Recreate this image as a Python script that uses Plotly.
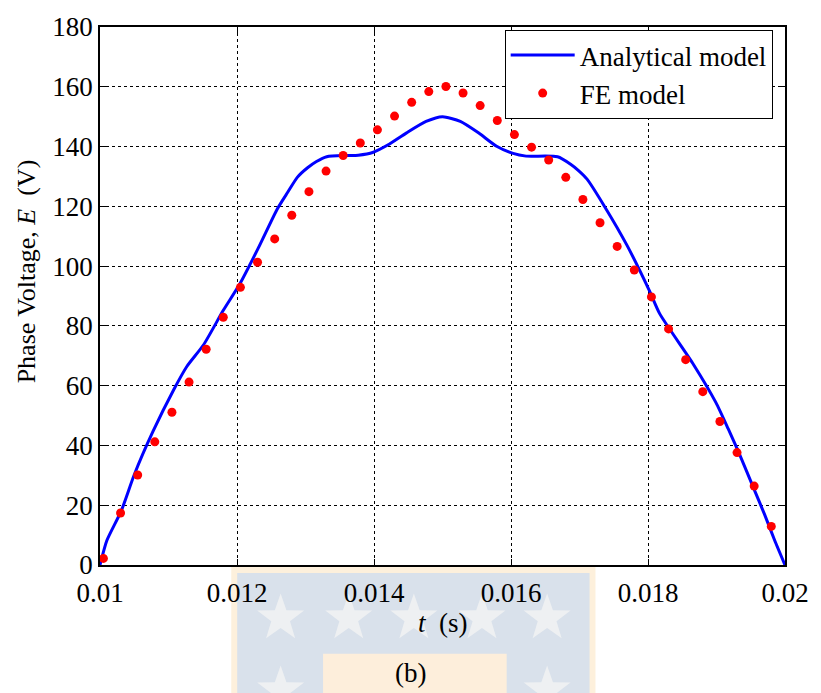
import math
import plotly.graph_objects as go

# Analytical model: phase back-EMF over one half period
t_analytical = [0.01000, 0.01010, 0.01031, 0.01050, 0.01077, 0.01108, 0.01127,
                0.01151, 0.01180, 0.01204, 0.01231, 0.01259, 0.01274, 0.01288,
                0.01303, 0.01316, 0.01331, 0.01360, 0.01377, 0.01399, 0.01420,
                0.01447, 0.01476, 0.01500, 0.01526, 0.01553, 0.01579, 0.01603,
                0.01622, 0.01668, 0.01687, 0.01699, 0.01711, 0.01737, 0.01769,
                0.01802, 0.01817, 0.01865, 0.01899, 0.01917, 0.01932, 0.01956,
                0.01970, 0.01985, 0.02000]
e_analytical = [0.0, 8.2, 18.1, 30.2, 44.5, 58.8, 66.5,
                73.6, 85.2, 94.0, 106.0, 119.2, 124.7, 129.7,
                132.9, 135.0, 136.6, 137.0, 137.1, 138.1, 140.5,
                144.5, 148.4, 150.0, 148.4, 144.5, 140.1, 137.7,
                136.8, 136.6, 134.1, 131.9, 129.1, 119.8, 107.1,
                91.8, 84.1, 67.6, 54.4, 45.6, 37.9, 24.7,
                17.0, 8.2, 0.0]

# Finite-element results
t_fe = [0.01005, 0.01030, 0.01055, 0.01080, 0.01105, 0.01130, 0.01155, 0.01180,
        0.01205, 0.01230, 0.01255, 0.01280, 0.01305, 0.01330, 0.01355, 0.01380,
        0.01405, 0.01430, 0.01455, 0.01480, 0.01505, 0.01530, 0.01555, 0.01580,
        0.01605, 0.01630, 0.01655, 0.01680, 0.01705, 0.01730, 0.01755, 0.01780,
        0.01805, 0.01830, 0.01855, 0.01880, 0.01905, 0.01930, 0.01955, 0.01980]
e_fe = [2.2, 17.4, 30.1, 41.2, 51.1, 61.2, 72.2, 82.9,
        92.9, 101.3, 109.1, 117.0, 124.9, 131.8, 137.0, 141.2,
        145.6, 150.2, 154.8, 158.4, 160.1, 157.9, 153.7, 148.7,
        144.0, 139.8, 135.5, 129.7, 122.3, 114.5, 106.6, 98.7,
        89.7, 79.0, 68.7, 58.0, 48.0, 37.6, 26.4, 12.9]

x_tickvals = [0.01, 0.012, 0.014, 0.016, 0.018, 0.02]
x_ticktext = ["0.01", "0.012", "0.014", "0.016", "0.018", "0.02"]
y_tickvals = [0, 20, 40, 60, 80, 100, 120, 140, 160, 180]

FONT = "Liberation Serif"
W, H = 821, 693
ML, MR, MT, MB = 100, 27, 19, 128

fig = go.Figure()
fig.add_trace(go.Scatter(
    x=t_analytical, y=e_analytical, mode="lines", name="Analytical model",
    line=dict(color="#0000ff", width=3, shape="spline", smoothing=0.6),
))
fig.add_trace(go.Scatter(
    x=t_fe, y=e_fe, mode="markers", name="FE model",
    marker=dict(color="#ff0000", size=9),
))

axis_common = dict(
    showline=True, linecolor="black", linewidth=1.5, mirror="ticks",
    ticks="inside", ticklen=6, tickwidth=1, tickcolor="black",
    showgrid=True, gridcolor="black", gridwidth=1, griddash="dot",
    zeroline=False, tickfont=dict(family=FONT, size=27, color="black"),
)

# Pixel -> paper helpers for the background emblem
pw, ph = W - ML - MR, H - MT - MB
def px(x):
    return (x - ML) / pw
def py(y):
    return (H - MB - y) / ph

def rect(x0, y0, x1, y1, color):
    return dict(type="rect", xref="paper", yref="paper", layer="below",
                x0=px(x0), x1=px(x1), y0=py(y1), y1=py(y0),
                fillcolor=color, line=dict(width=0))

def star(cx, cy, r_out, r_in, color):
    pts = []
    for k in range(10):
        r = r_out if k % 2 == 0 else r_in
        a = -math.pi / 2 + k * math.pi / 5
        pts.append((cx + r * math.cos(a), cy + r * math.sin(a)))
    path = "M " + " L ".join(f"{px(x):.5f},{py(y):.5f}" for x, y in pts) + " Z"
    return dict(type="path", xref="paper", yref="paper", layer="below",
                path=path, fillcolor=color, line=dict(width=0))

shapes = [
    rect(233, 567, 602, 700, "#fdf0dc"),
    rect(239, 573, 596, 700, "#d9e1eb"),
    rect(326, 655, 512, 700, "#fdeedb"),
]
for sx in [283, 352, 418, 487, 553]:
    shapes.append(star(sx, 619, 25, 10, "#eef0f2"))
for sx in [283, 553]:
    shapes.append(star(sx, 692, 25, 10, "#eef0f2"))

annotations = [
    dict(text="Phase Voltage, <i>E</i>  (V)", xref="paper", yref="paper",
         x=px(25), y=py(267), xanchor="center", yanchor="middle",
         textangle=-90, showarrow=False,
         font=dict(family=FONT, size=26, color="black")),
    dict(text="<i>t</i>  (s)", xref="paper", yref="paper",
         x=px(447), y=py(624), xanchor="center", yanchor="middle",
         showarrow=False, font=dict(family=FONT, size=27, color="black")),
    dict(text="(b)", xref="paper", yref="paper",
         x=px(415), y=py(675), xanchor="center", yanchor="middle",
         showarrow=False, font=dict(family=FONT, size=27, color="black")),
]

fig.update_layout(
    width=W, height=H,
    margin=dict(l=ML, r=MR, t=MT, b=MB, pad=0),
    paper_bgcolor="white", plot_bgcolor="white",
    xaxis=dict(range=[0.01, 0.02], tickvals=x_tickvals, ticktext=x_ticktext,
               ticklabelstandoff=3, **axis_common),
    yaxis=dict(range=[0, 180], tickvals=y_tickvals, **axis_common),
    legend=dict(x=px(510), y=py(22), xanchor="left", yanchor="top",
                bgcolor="white", bordercolor="black", borderwidth=1,
                font=dict(family=FONT, size=27, color="black"),
                itemwidth=64, tracegroupgap=0),
    shapes=shapes,
    annotations=annotations,
    showlegend=True,
)

fig.write_html("out.html")
